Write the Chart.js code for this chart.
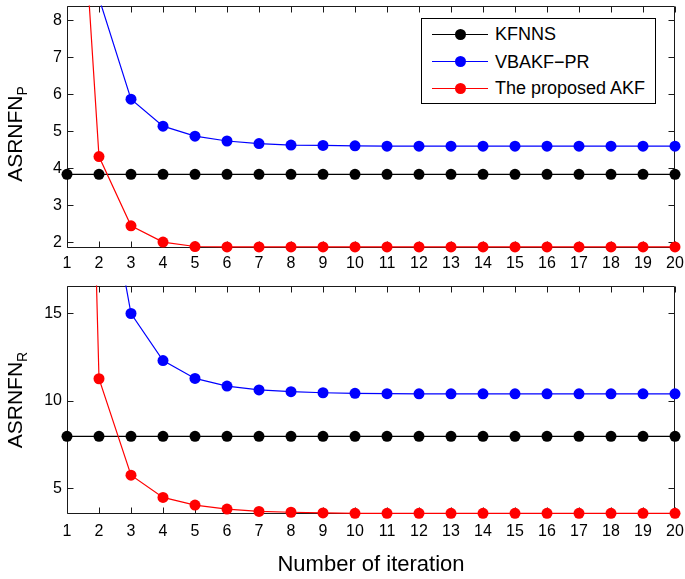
<!DOCTYPE html>
<html>
<head>
<meta charset="utf-8">
<script src="https://cdn.jsdelivr.net/npm/chart.js@4/dist/chart.umd.min.js"></script>
<style>
  html, body { margin: 0; padding: 0; background: #fff; }
  body { width: 685px; height: 579px; position: relative; overflow: hidden; font-family: "Liberation Sans", Arial, sans-serif; color: #000; }
  canvas { position: absolute; left: 0; }
  #c1 { top: 0; }
  #c2 { top: 280px; }
  .ytitle { position: absolute; font-size: 21px; line-height: 1; white-space: nowrap; transform: translate(-50%, -50%) rotate(-90deg); z-index: 2; }
  .ytitle sub { font-size: 14px; vertical-align: -5px; }
  #legend { position: absolute; left: 421px; top: 18px; width: 235px; height: 86px; border: 1px solid #000; background: #fff; box-sizing: border-box; z-index: 3; }
  .lline { position: absolute; left: 10px; width: 56px; height: 1px; }
  .ldot { position: absolute; width: 11px; height: 11px; border-radius: 50%; left: 32.5px; }
  .ltext { position: absolute; left: 73px; font-size: 18px; line-height: 20px; white-space: nowrap; }
</style>
</head>
<body>
<canvas id="c1" width="685" height="280"></canvas>
<canvas id="c2" width="685" height="299"></canvas>
<div class="ytitle" style="left:16px; top:134px;">ASRNFN<sub>P</sub></div>
<div class="ytitle" style="left:16px; top:400px;">ASRNFN<sub>R</sub></div>
<div id="legend"></div>
<script>
// ---------- data ----------
const iterations = [1, 2, 3, 4, 5, 6, 7, 8, 9, 10, 11, 12, 13, 14, 15, 16, 17, 18, 19, 20];
const seriesNames = ["KFNNS", "VBAKF\u2212PR", "The proposed AKF"];
const seriesColors = ["#000000", "#0000ff", "#ff0000"];

// top panel (ASRNFN_P)
const topKFNNS = [3.84, 3.84, 3.84, 3.84, 3.84, 3.84, 3.84, 3.84, 3.84, 3.84, 3.84, 3.84, 3.84, 3.84, 3.84, 3.84, 3.84, 3.84, 3.84, 3.84];
const topVBAKF = [28, 8.6, 5.87, 5.14, 4.87, 4.74, 4.67, 4.63, 4.62, 4.61, 4.60, 4.60, 4.60, 4.60, 4.60, 4.60, 4.60, 4.60, 4.60, 4.60];
const topAKF   = [17.8, 4.32, 2.45, 2.01, 1.89, 1.88, 1.88, 1.88, 1.88, 1.88, 1.88, 1.88, 1.88, 1.88, 1.88, 1.88, 1.88, 1.88, 1.88, 1.88];
const topYTicks = [2, 3, 4, 5, 6, 7, 8];
const topYMin = 1.85, topYMax = 8.4;

// bottom panel (ASRNFN_R)
const botKFNNS = [7.98, 7.98, 7.98, 7.98, 7.98, 7.98, 7.98, 7.98, 7.98, 7.98, 7.98, 7.98, 7.98, 7.98, 7.98, 7.98, 7.98, 7.98, 7.98, 7.98];
const botVBAKF = [95, 25, 15.0, 12.31, 11.29, 10.85, 10.63, 10.53, 10.47, 10.44, 10.42, 10.41, 10.41, 10.41, 10.41, 10.41, 10.41, 10.41, 10.41, 10.41];
const botAKF   = [80, 11.27, 5.76, 4.49, 4.05, 3.82, 3.69, 3.64, 3.60, 3.58, 3.58, 3.58, 3.58, 3.58, 3.58, 3.58, 3.58, 3.58, 3.58, 3.58];
const botYTicks = [5, 10, 15];
const botYMin = 3.54, botYMax = 16.6;

const xTitle = "Number of iteration";

// ---------- chart setup ----------
Chart.defaults.font.family = "'Liberation Sans', Arial, sans-serif";
Chart.defaults.color = "#000";

const framePlugin = {
  id: 'frame',
  beforeDatasetsDraw(chart) {
    const { ctx, chartArea: a, scales } = chart;
    const x = scales.x, y = scales.y;
    const L = Math.round(a.left) + 0.5, R = Math.round(a.right) - 0.5;
    const T = Math.round(a.top) + 0.5, B = Math.round(a.bottom) - 0.5;
    const tl = 6;
    ctx.save();
    ctx.strokeStyle = '#1a1a1a';
    ctx.lineWidth = 1;
    ctx.beginPath();
    ctx.rect(L, T, R - L, B - T);
    x.ticks.forEach((t, i) => {
      const px = Math.round(x.getPixelForTick(i)) + 0.5;
      ctx.moveTo(px, B); ctx.lineTo(px, B - tl);
      ctx.moveTo(px, T); ctx.lineTo(px, T + tl);
    });
    y.ticks.forEach((t, i) => {
      const py = Math.round(y.getPixelForValue(t.value)) + 0.5;
      ctx.moveTo(L, py); ctx.lineTo(L + tl, py);
      ctx.moveTo(R, py); ctx.lineTo(R - tl, py);
    });
    ctx.stroke();
    ctx.restore();
  }
};

function makeDataset(label, data, color, order) {
  return {
    label, data,
    borderColor: color, backgroundColor: color,
    pointBackgroundColor: color, pointBorderColor: color,
    borderWidth: 1.2, pointRadius: 5.5, pointBorderWidth: 0,
    pointHoverRadius: 5.5, tension: 0, order,
    clip: { left: 8, right: 8, top: 0, bottom: 8 }
  };
}

function makeChart(canvasId, kf, vb, akf, yTicks, yMin, yMax, padTop, xHeight, tickPad, showTitle) {
  return new Chart(document.getElementById(canvasId), {
    type: 'line',
    data: {
      labels: iterations,
      datasets: [
        makeDataset(seriesNames[0], kf, seriesColors[0], 2),
        makeDataset(seriesNames[1], vb, seriesColors[1], 1),
        makeDataset(seriesNames[2], akf, seriesColors[2], 0)
      ]
    },
    options: {
      responsive: false,
      animation: false,
      devicePixelRatio: 1,
      layout: { padding: { left: 0, right: 10, top: padTop, bottom: 0 } },
      plugins: { legend: { display: false }, tooltip: { enabled: false } },
      events: [],
      scales: {
        x: {
          type: 'category',
          offset: false,
          grid: { display: false, drawTicks: false },
          border: { display: false },
          ticks: { autoSkip: false, maxRotation: 0, padding: tickPad, font: { size: 16 }, color: '#000' },
          title: { display: showTitle, text: xTitle, font: { size: 22 }, color: '#000', padding: { top: 0, bottom: 1 } },
          afterFit(s) { s.height = xHeight; s.paddingLeft = 0; s.paddingRight = 0; s.paddingTop = 0; s.paddingBottom = 0; }
        },
        y: {
          min: yMin, max: yMax,
          grid: { display: false, drawTicks: false },
          border: { display: false },
          ticks: { padding: 5, font: { size: 16 }, color: '#000' },
          afterBuildTicks(s) { s.ticks = yTicks.map(v => ({ value: v })); },
          afterFit(s) { s.width = 67; s.paddingLeft = 0; s.paddingRight = 0; s.paddingTop = 0; s.paddingBottom = 0; }
        }
      }
    },
    plugins: [framePlugin]
  });
}

makeChart('c1', topKFNNS, topVBAKF, topAKF, topYTicks, topYMin, topYMax, 1, 32, 6, false);
makeChart('c2', botKFNNS, botVBAKF, botAKF, botYTicks, botYMin, botYMax, 4, 65, 8, true);

// ---------- legend ----------
const lg = document.getElementById('legend');
const rowCenters = [15.3, 42.7, 69.3];
seriesNames.forEach((name, i) => {
  const cy = rowCenters[i];
  const line = document.createElement('div');
  line.className = 'lline';
  line.style.top = (cy - 0.5) + 'px';
  line.style.background = seriesColors[i];
  const dot = document.createElement('div');
  dot.className = 'ldot';
  dot.style.top = (cy - 5.5) + 'px';
  dot.style.background = seriesColors[i];
  const txt = document.createElement('div');
  txt.className = 'ltext';
  txt.style.top = (cy - 10) + 'px';
  txt.textContent = name;
  lg.appendChild(line); lg.appendChild(dot); lg.appendChild(txt);
});
</script>
</body>
</html>
